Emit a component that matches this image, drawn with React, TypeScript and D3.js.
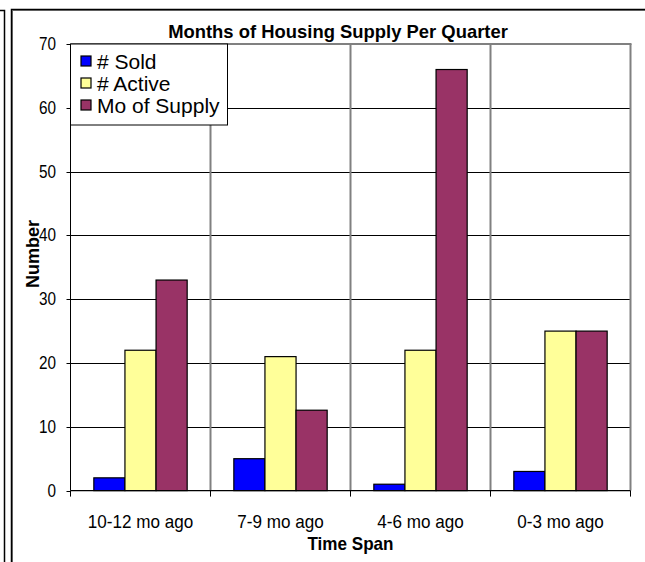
import React from 'react';
import * as d3 from 'd3';

const categories = ['10-12 mo ago', '7-9 mo ago', '4-6 mo ago', '0-3 mo ago'];
const seriesNames = ['# Sold', '# Active', 'Mo of Supply'];
const soldValues = [2, 5, 1, 3];
const activeValues = [22, 21, 22, 25];
const supplyValues = [33, 12.6, 66, 25];
const yTicks = [0, 10, 20, 30, 40, 50, 60, 70];
const seriesColors = ['#0000FF', '#FFFF99', '#993366'];

const W = 645;
const H = 562;
const plot = { left: 70.5, right: 630.5, top: 44, bottom: 490.6 };
const font = '"Liberation Sans", Arial, sans-serif';

// text squeezed a bit horizontally, like the resized Excel chart
function Txt(props: { x: number; y: number; sx?: number; anchor?: string; size: number; bold?: boolean; rotate?: number; children: React.ReactNode }) {
  const { x, y, sx = 1, anchor = 'start', size, bold, rotate = 0, children } = props;
  return (
    <text transform={`translate(${x},${y}) rotate(${rotate}) scale(${sx},1)`} textAnchor={anchor}
      dominantBaseline="central" fontSize={size} fontWeight={bold ? 'bold' : 'normal'}>
      {children}
    </text>
  );
}

export default function App() {
  const series = [soldValues, activeValues, supplyValues];

  const x = d3.scaleBand<string>()
    .domain(categories)
    .range([plot.left, plot.right])
    .paddingInner(0)
    .paddingOuter(0);

  // Excel style gap width 150% -> bar = band / 4.5
  const barW = x.bandwidth() / 4.5;
  const groupOffset = barW * 0.75;

  const y = d3.scaleLinear().domain([0, 70]).range([plot.bottom, plot.top]);

  const boundaries = categories.map(c => x(c)!).concat([plot.right]);

  return (
    <div style={{ position: 'absolute', left: 0, top: 0 }}>
      <svg width={W} height={H} style={{ display: 'block', background: '#fff' }} fontFamily={font}>
        {/* outer frames */}
        <path d={`M0,10.5 H4.5 V${H}`} fill="none" stroke="#000" strokeWidth={1.5} />
        <path d={`M12.5,${H} V10.5 H${W}`} fill="none" stroke="#808080" strokeWidth={1} />
        <path d={`M11.5,${H} V9.5 H${W}`} fill="none" stroke="#000" strokeWidth={1.5} />

        <Txt x={338} y={31} anchor="middle" size={19} bold sx={0.97}>Months of Housing Supply Per Quarter</Txt>

        {/* horizontal gridlines */}
        {yTicks.slice(1).map(t => (
          <line key={'g' + t} x1={plot.left} x2={plot.right} y1={Math.round(y(t)) + 0.5} y2={Math.round(y(t)) + 0.5} stroke="#000" strokeWidth={1} />
        ))}

        {/* vertical gridlines at category boundaries */}
        {boundaries.slice(1).map((b, i) => (
          <line key={'v' + i} x1={b} x2={b} y1={plot.top} y2={plot.bottom} stroke="#808080" strokeWidth={2} />
        ))}

        {/* plot area border top */}
        <line x1={plot.left} x2={plot.right + 1} y1={plot.top} y2={plot.top} stroke="#808080" strokeWidth={2} />

        {/* bars */}
        {series.map((vals, si) =>
          vals.map((v, ci) => {
            const bx = x(categories[ci])! + groupOffset + si * barW;
            const top = y(v);
            return (
              <rect key={`b${si}-${ci}`} x={bx} y={top} width={barW} height={plot.bottom - top}
                fill={seriesColors[si]} stroke="#000" strokeWidth={1.2} />
            );
          })
        )}

        {/* y axis */}
        <line x1={plot.left} x2={plot.left} y1={plot.top} y2={plot.bottom} stroke="#000" strokeWidth={1} />
        {yTicks.map(t => (
          <g key={'yt' + t}>
            <line x1={plot.left - 4} x2={plot.left} y1={Math.round(y(t)) + 0.5} y2={Math.round(y(t)) + 0.5} stroke="#000" />
            <Txt x={56} y={y(t)} anchor="end" size={18} sx={0.85}>{t}</Txt>
          </g>
        ))}

        {/* x axis */}
        <line x1={plot.left} x2={plot.right} y1={plot.bottom} y2={plot.bottom} stroke="#000" strokeWidth={1.2} />
        {boundaries.map((b, i) => (
          <line key={'xt' + i} x1={b} x2={b} y1={plot.bottom} y2={plot.bottom + 6} stroke="#000" />
        ))}
        {categories.map(c => (
          <Txt key={c} x={x(c)! + x.bandwidth() / 2} y={522} anchor="middle" size={18} sx={0.95}>{c}</Txt>
        ))}

        {/* axis titles */}
        <Txt x={350.5} y={544} anchor="middle" size={18} bold sx={0.95}>Time Span</Txt>
        <Txt x={33} y={254} anchor="middle" size={18} bold rotate={-90} sx={1}>Number</Txt>

        {/* legend */}
        <rect x={plot.left} y={plot.top} width={157} height={81} fill="#fff" stroke="#000" strokeWidth={1} />
        {seriesNames.map((n, i) => (
          <g key={n}>
            <rect x={81} y={56 + i * 22} width={10} height={10} fill={seriesColors[i]} stroke="#000" strokeWidth={1.2} />
            <Txt x={97} y={61 + i * 22} size={21} sx={1}>{n}</Txt>
          </g>
        ))}
      </svg>
    </div>
  );
}
